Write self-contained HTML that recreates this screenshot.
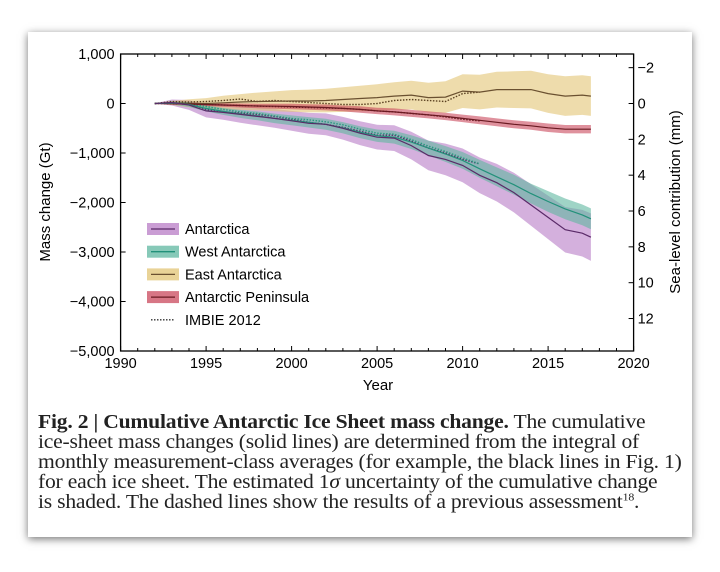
<!DOCTYPE html>
<html><head><meta charset="utf-8">
<style>
body{margin:0;width:720px;height:572px;background:#fff;overflow:hidden;font-family:"Liberation Sans",sans-serif}
#card{position:absolute;left:28px;top:32px;width:664px;height:505px;background:#fff;box-shadow:0 2px 8px rgba(0,0,0,0.55)}
#cap{position:absolute;left:38px;top:412px;width:620px;font-family:"Liberation Serif",serif;font-size:20px;line-height:20px;color:#222;white-space:nowrap;letter-spacing:-0.2px;transform:scaleX(1.08);transform-origin:0 0}
svg{position:absolute;left:0;top:0}
</style></head><body>
<div id="card"></div>
<svg id="chart" width="720" height="572"></svg>
<div id="cap"><b>Fig. 2 | Cumulative Antarctic Ice Sheet mass change.</b> The cumulative<br>ice-sheet mass changes (solid lines) are determined from the integral of<br>monthly measurement-class averages (for example, the black lines in Fig. 1)<br>for each ice sheet. The estimated 1<i>σ</i> uncertainty of the cumulative change<br>is shaded. The dashed lines show the results of a previous assessment<sup style="font-size:11px;line-height:0">18</sup>.</div>
<script>
const years=[1992,1993,1994,1995,1996,1997,1998,1999,2000,2001,2002,2003,2004,2005,2006,2007,2008,2009,2010,2011,2012,2013,2014,2015,2016,2017,2017.5];
const antarctica=[0,20,-30,-150,-180,-220,-260,-300,-350,-400,-420,-500,-600,-680,-700,-850,-1050,-1130,-1250,-1450,-1600,-1800,-2050,-2300,-2550,-2620,-2700];
const antarcticaErr=[0,60,100,130,150,170,180,190,200,210,220,230,240,250,260,280,300,320,340,360,380,400,420,440,460,470,480];
const west=[0,10,-20,-100,-160,-210,-250,-300,-340,-380,-420,-490,-580,-650,-680,-780,-900,-1020,-1150,-1320,-1480,-1640,-1820,-1980,-2130,-2250,-2330];
const westErr=[0,30,50,60,70,80,90,95,100,105,110,115,120,125,130,140,150,160,170,180,190,200,200,210,210,210,210];
const east=[0,10,5,0,15,30,40,45,50,50,60,80,100,120,150,170,120,130,250,230,280,280,280,200,150,170,150];
const eastErr=[0,40,80,110,140,160,180,200,220,230,240,250,260,270,280,290,300,320,340,350,360,370,380,390,400,400,400];
const peninsula=[0,-5,-10,-20,-30,-40,-50,-55,-60,-70,-80,-100,-120,-150,-170,-200,-230,-260,-300,-340,-380,-420,-450,-490,-520,-520,-520];
const peninsulaErr=[0,20,25,30,35,40,45,50,55,55,60,60,65,65,70,70,70,75,75,80,80,80,80,85,85,85,85];
const imbieYears=[1992,1993,1994,1995,1996,1997,1998,1999,2000,2001,2002,2003,2004,2005,2006,2007,2008,2009,2010,2011];
const imbieAnt=[0,20,0,-120,-170,-190,-220,-260,-320,-380,-420,-480,-560,-640,-640,-760,-900,-1000,-1130,-1220];
const imbieWest=[0,20,0,-60,-120,-170,-200,-250,-300,-330,-370,-430,-520,-600,-620,-730,-860,-970,-1100,-1220];
const imbieEast=[0,40,30,40,60,90,40,60,40,20,0,-20,-20,0,60,80,60,40,200,230];
const imbiePen=[0,-5,-10,-20,-30,-40,-50,-60,-70,-80,-90,-100,-120,-150,-170,-200,-230,-270,-320,-350];
const xTicks=[1990,1995,2000,2005,2010,2015,2020];
const yTicks=[1000,0,-1000,-2000,-3000,-4000,-5000];
const yTickLabels=["1,000","0","−1,000","−2,000","−3,000","−4,000","−5,000"];
const slTicks=[-2,0,2,4,6,8,10,12];
const slTickLabels=["−2","0","2","4","6","8","10","12"];

const L=120.6,R=633.6,T=54,B=351;
const X=v=>L+(v-1990)/30*(R-L);
const Y=v=>T+(1000-v)/6000*(B-T);
const Ymm=v=>Y(-v*362);
const svg=document.getElementById('chart');
const NS='http://www.w3.org/2000/svg';
function mk(t,a,p){const e=document.createElementNS(NS,t);for(const k in a)e.setAttribute(k,a[k]);(p||svg).appendChild(e);return e;}
function band(v,e,fill,name){
  let d='M'+years.map((y,i)=>X(y).toFixed(1)+','+Y(v[i]+e[i]).toFixed(1)).join('L');
  for(let i=years.length-1;i>=0;i--)d+='L'+X(years[i]).toFixed(1)+','+Y(v[i]-e[i]).toFixed(1);
  const p=mk('path',{d:d+'Z',fill:fill,'fill-opacity':0.6});
  
  
}
function line(xs,v,col,name,dash){
  const p=mk('path',{d:'M'+xs.map((y,i)=>X(y).toFixed(1)+','+Y(v[i]).toFixed(1)).join('L'),fill:'none',stroke:col,'stroke-width':dash?1.4:1.2,'stroke-dasharray':dash?'1.5,1.5':'none'});
  
  
}
band(antarctica,antarcticaErr,'#b87cc6','antarctica-uncertainty');
band(east,eastErr,'#e2c474','east-antarctica-uncertainty');
band(west,westErr,'#5fb7a0','west-antarctica-uncertainty');
band(peninsula,peninsulaErr,'#c9485c','peninsula-uncertainty');
line(imbieYears,imbieAnt,'#5a2a68','imbie-antarctica',1);
line(imbieYears,imbieWest,'#2a9a80','imbie-west-antarctica',1);
line(imbieYears,imbieEast,'#5a4020','imbie-east-antarctica',1);
line(imbieYears,imbiePen,'#6a1a22','imbie-peninsula',1);
line(years,east,'#6a5030','east-antarctica-line');
line(years,peninsula,'#6a1a22','peninsula-line');
line(years,west,'#22917a','west-antarctica-line');
line(years,antarctica,'#5a2a68','antarctica-line');

const fr=mk('rect',{x:L,y:T,width:R-L,height:B-T,fill:'none',stroke:'#000','stroke-width':1.3});

xTicks.forEach(t=>{
  mk('line',{x1:X(t),x2:X(t),y1:B,y2:B-5,stroke:'#000'});mk('line',{x1:X(t),x2:X(t),y1:T,y2:T+5,stroke:'#000'});
  const tx=mk('text',{x:X(t),y:B+17,'text-anchor':'middle','font-size':14.5});tx.textContent=t;
  
});
for(let t=1991;t<2020;t++){if(t%5)mk('line',{x1:X(t),x2:X(t),y1:B,y2:B-3,stroke:'#000'}),mk('line',{x1:X(t),x2:X(t),y1:T,y2:T+3,stroke:'#000'});}
yTicks.forEach((t,i)=>{
  mk('line',{x1:L,x2:L+5,y1:Y(t),y2:Y(t),stroke:'#000'});
  const tx=mk('text',{x:L-6,y:Y(t)+5,'text-anchor':'end','font-size':14.5});tx.textContent=yTickLabels[i];
  
});
slTicks.forEach((t,i)=>{
  mk('line',{x1:R,x2:R-5,y1:Ymm(t),y2:Ymm(t),stroke:'#000'});
  const tx=mk('text',{x:R+4,y:Ymm(t)+5,'font-size':14.5});tx.textContent=slTickLabels[i];
  
});
let t1=mk('text',{x:378,y:390,'text-anchor':'middle','font-size':15});t1.textContent='Year';

let t2=mk('text',{transform:'translate(50,202) rotate(-90)','text-anchor':'middle','font-size':15});t2.textContent='Mass change (Gt)';

let t3=mk('text',{transform:'translate(680,202) rotate(-90)','text-anchor':'middle','font-size':15});t3.textContent='Sea-level contribution (mm)';


const legNames=['Antarctica','West Antarctica','East Antarctica','Antarctic Peninsula','IMBIE 2012'];
const legFill=['#b87cc6','#5fb7a0','#e2c474','#c9485c',null];
const legLine=['#5a2a68','#22917a','#6a5030','#6a1a22','#333'];
legNames.forEach((n,i)=>{
  const y=229+i*22.7;
  const g=mk('g',{});
  
  if(legFill[i])mk('rect',{x:147,y:y-6,width:32,height:12,fill:legFill[i],'fill-opacity':0.75},g);
  mk('line',{x1:151,x2:175,y1:y,y2:y,stroke:legLine[i],'stroke-width':1.3,'stroke-dasharray':legFill[i]?'none':'1.5,1.5'},g);
  const tx=mk('text',{x:185,y:y+5,'font-size':14.5},g);tx.textContent=n;
});
</script>
</body></html>
